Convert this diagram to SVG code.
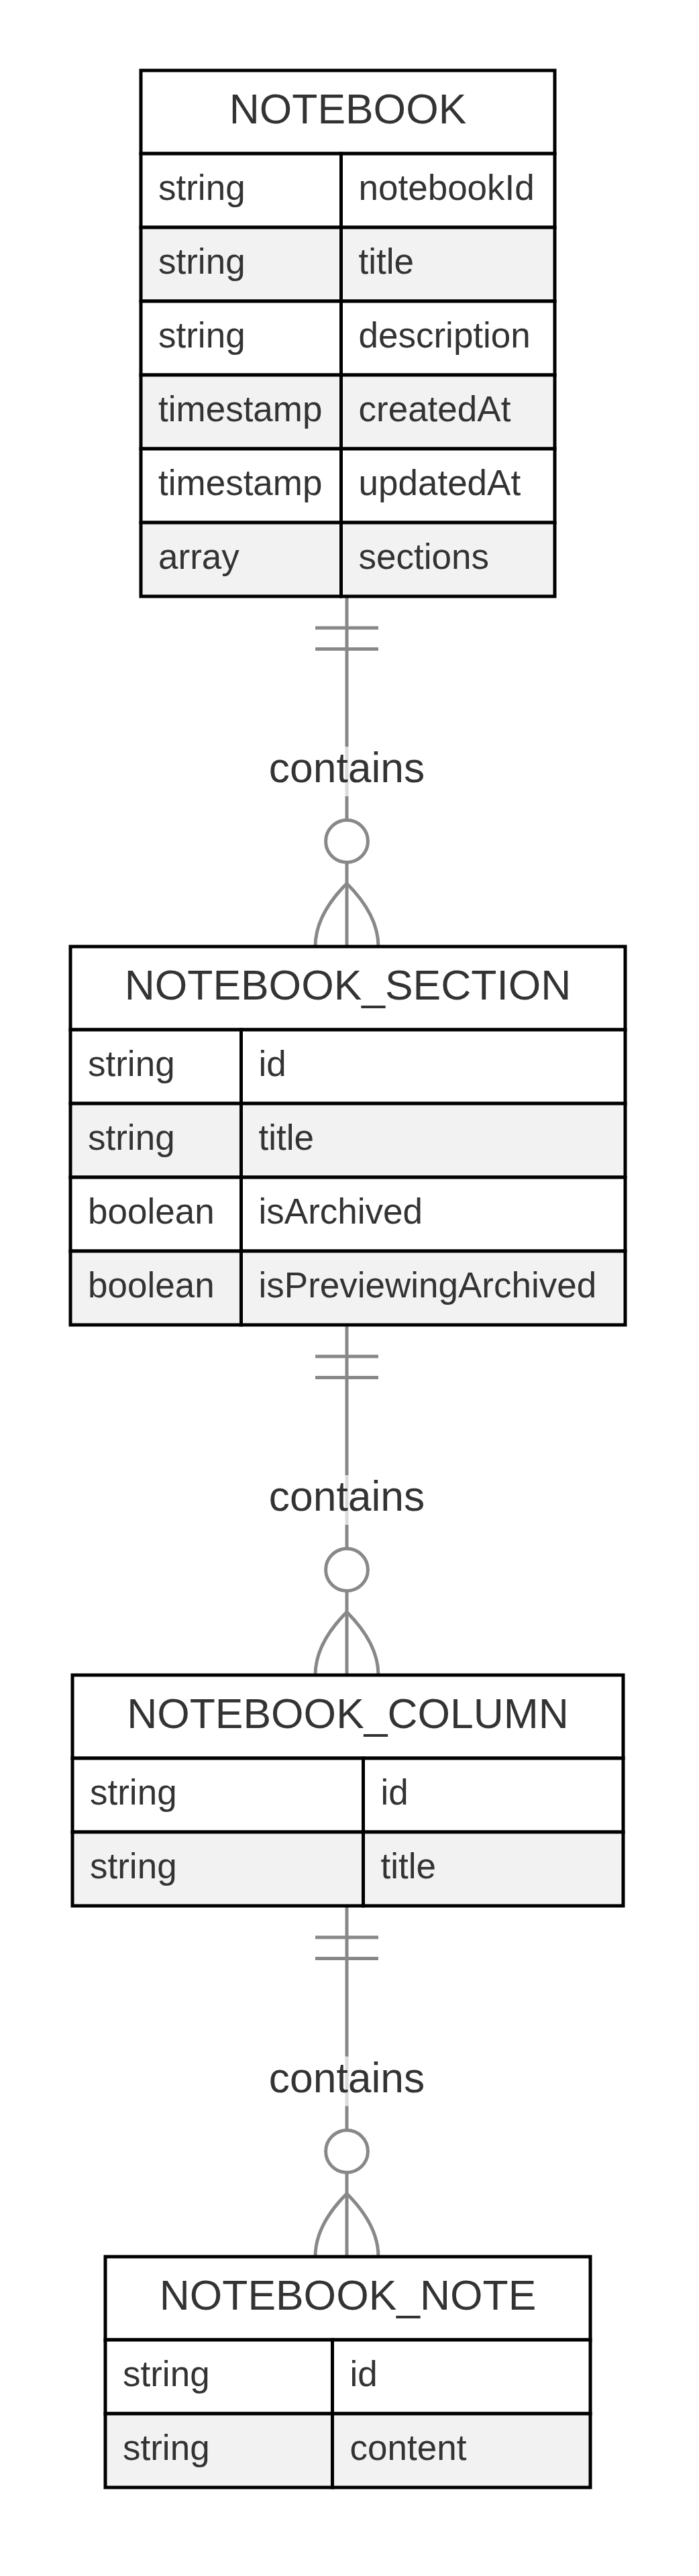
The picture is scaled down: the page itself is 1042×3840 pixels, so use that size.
<svg xmlns="http://www.w3.org/2000/svg" width="1042" height="3840" viewBox="0 0 1042 3840">
<style>
.bg{fill:#ffffff}
.hd{fill:#ffffff;stroke:#000000;stroke-width:5}
.odd{fill:#ffffff;stroke:#000000;stroke-width:5}
.even{fill:#f2f2f2;stroke:#000000;stroke-width:5}
.title{font-family:"Liberation Sans",Arial,sans-serif;font-size:62.4px;fill:#333333;text-anchor:middle}
.attr{font-family:"Liberation Sans",Arial,sans-serif;font-size:53px;fill:#333333}
.rel{fill:none;stroke:#888888;stroke-width:5}
.circ{fill:#ffffff;stroke:#888888;stroke-width:5}
.lblbox{fill:#ffffff;opacity:0.7}
.lbl{font-family:"Liberation Sans",Arial,sans-serif;font-size:62.4px;fill:#333333;text-anchor:middle}
</style>
<rect class="bg" x="0" y="0" width="1042" height="3840"/>
<g id="connectors">
  <g id="rel1">
    <line class="rel" x1="517" y1="889" x2="517" y2="1411"/>
    <line class="rel" x1="470" y1="936" x2="564" y2="936"/>
    <line class="rel" x1="470" y1="967.5" x2="564" y2="967.5"/>
    <circle class="circ" cx="517" cy="1254" r="31.4"/>
    <path class="rel" d="M517,1317 Q470,1364 470,1411 M517,1317 Q564,1364 564,1411"/>
    <rect class="lblbox" x="402" y="1113" width="230" height="74"/>
    <text class="lbl" x="517" y="1166">contains</text>
  </g>
  <g id="rel2">
    <line class="rel" x1="517" y1="1975" x2="517" y2="2497"/>
    <line class="rel" x1="470" y1="2022" x2="564" y2="2022"/>
    <line class="rel" x1="470" y1="2053.5" x2="564" y2="2053.5"/>
    <circle class="circ" cx="517" cy="2340" r="31.4"/>
    <path class="rel" d="M517,2403 Q470,2450 470,2497 M517,2403 Q564,2450 564,2497"/>
    <rect class="lblbox" x="402" y="2199" width="230" height="74"/>
    <text class="lbl" x="517" y="2252">contains</text>
  </g>
  <g id="rel3">
    <line class="rel" x1="517" y1="2841" x2="517" y2="3364"/>
    <line class="rel" x1="470" y1="2888" x2="564" y2="2888"/>
    <line class="rel" x1="470" y1="2919.5" x2="564" y2="2919.5"/>
    <circle class="circ" cx="517" cy="3207" r="31.4"/>
    <path class="rel" d="M517,3270 Q470,3317 470,3364 M517,3270 Q564,3317 564,3364"/>
    <rect class="lblbox" x="402" y="3065.5" width="230" height="74"/>
    <text class="lbl" x="517" y="3118.5">contains</text>
  </g>
</g>
<g id="NOTEBOOK">
  <rect class="hd" x="210" y="105" width="617" height="124"/>
  <text class="title" x="518.5" y="183.5">NOTEBOOK</text>
  <rect class="odd" x="210" y="229" width="298.5" height="110"/>
  <rect class="odd" x="508.5" y="229" width="318.5" height="110"/>
  <rect class="even" x="210" y="339" width="298.5" height="110"/>
  <rect class="even" x="508.5" y="339" width="318.5" height="110"/>
  <rect class="odd" x="210" y="449" width="298.5" height="110"/>
  <rect class="odd" x="508.5" y="449" width="318.5" height="110"/>
  <rect class="even" x="210" y="559" width="298.5" height="110"/>
  <rect class="even" x="508.5" y="559" width="318.5" height="110"/>
  <rect class="odd" x="210" y="669" width="298.5" height="110"/>
  <rect class="odd" x="508.5" y="669" width="318.5" height="110"/>
  <rect class="even" x="210" y="779" width="298.5" height="110"/>
  <rect class="even" x="508.5" y="779" width="318.5" height="110"/>
  <text class="attr" x="236" y="297.5">string</text>
  <text class="attr" x="534.5" y="297.5">notebookId</text>
  <text class="attr" x="236" y="407.5">string</text>
  <text class="attr" x="534.5" y="407.5">title</text>
  <text class="attr" x="236" y="517.5">string</text>
  <text class="attr" x="534.5" y="517.5">description</text>
  <text class="attr" x="236" y="627.5">timestamp</text>
  <text class="attr" x="534.5" y="627.5">createdAt</text>
  <text class="attr" x="236" y="737.5">timestamp</text>
  <text class="attr" x="534.5" y="737.5">updatedAt</text>
  <text class="attr" x="236" y="847.5">array</text>
  <text class="attr" x="534.5" y="847.5">sections</text>
</g>
<g id="NOTEBOOK_SECTION">
  <rect class="hd" x="105" y="1411" width="827" height="124"/>
  <text class="title" x="518.5" y="1489.5">NOTEBOOK_SECTION</text>
  <rect class="odd" x="105" y="1535" width="254.5" height="110"/>
  <rect class="odd" x="359.5" y="1535" width="572.5" height="110"/>
  <rect class="even" x="105" y="1645" width="254.5" height="110"/>
  <rect class="even" x="359.5" y="1645" width="572.5" height="110"/>
  <rect class="odd" x="105" y="1755" width="254.5" height="110"/>
  <rect class="odd" x="359.5" y="1755" width="572.5" height="110"/>
  <rect class="even" x="105" y="1865" width="254.5" height="110"/>
  <rect class="even" x="359.5" y="1865" width="572.5" height="110"/>
  <text class="attr" x="131" y="1603.5">string</text>
  <text class="attr" x="385.5" y="1603.5">id</text>
  <text class="attr" x="131" y="1713.5">string</text>
  <text class="attr" x="385.5" y="1713.5">title</text>
  <text class="attr" x="131" y="1823.5">boolean</text>
  <text class="attr" x="385.5" y="1823.5">isArchived</text>
  <text class="attr" x="131" y="1933.5">boolean</text>
  <text class="attr" x="385.5" y="1933.5">isPreviewingArchived</text>
</g>
<g id="NOTEBOOK_COLUMN">
  <rect class="hd" x="108" y="2497" width="821" height="124"/>
  <text class="title" x="518.5" y="2575.5">NOTEBOOK_COLUMN</text>
  <rect class="odd" x="108" y="2621" width="433.5" height="110"/>
  <rect class="odd" x="541.5" y="2621" width="387.5" height="110"/>
  <rect class="even" x="108" y="2731" width="433.5" height="110"/>
  <rect class="even" x="541.5" y="2731" width="387.5" height="110"/>
  <text class="attr" x="134" y="2689.5">string</text>
  <text class="attr" x="567.5" y="2689.5">id</text>
  <text class="attr" x="134" y="2799.5">string</text>
  <text class="attr" x="567.5" y="2799.5">title</text>
</g>
<g id="NOTEBOOK_NOTE">
  <rect class="hd" x="157" y="3364" width="723" height="124"/>
  <text class="title" x="518.5" y="3442.5">NOTEBOOK_NOTE</text>
  <rect class="odd" x="157" y="3488" width="338.5" height="110"/>
  <rect class="odd" x="495.5" y="3488" width="384.5" height="110"/>
  <rect class="even" x="157" y="3598" width="338.5" height="110"/>
  <rect class="even" x="495.5" y="3598" width="384.5" height="110"/>
  <text class="attr" x="183" y="3556.5">string</text>
  <text class="attr" x="521.5" y="3556.5">id</text>
  <text class="attr" x="183" y="3666.5">string</text>
  <text class="attr" x="521.5" y="3666.5">content</text>
</g>
</svg>
